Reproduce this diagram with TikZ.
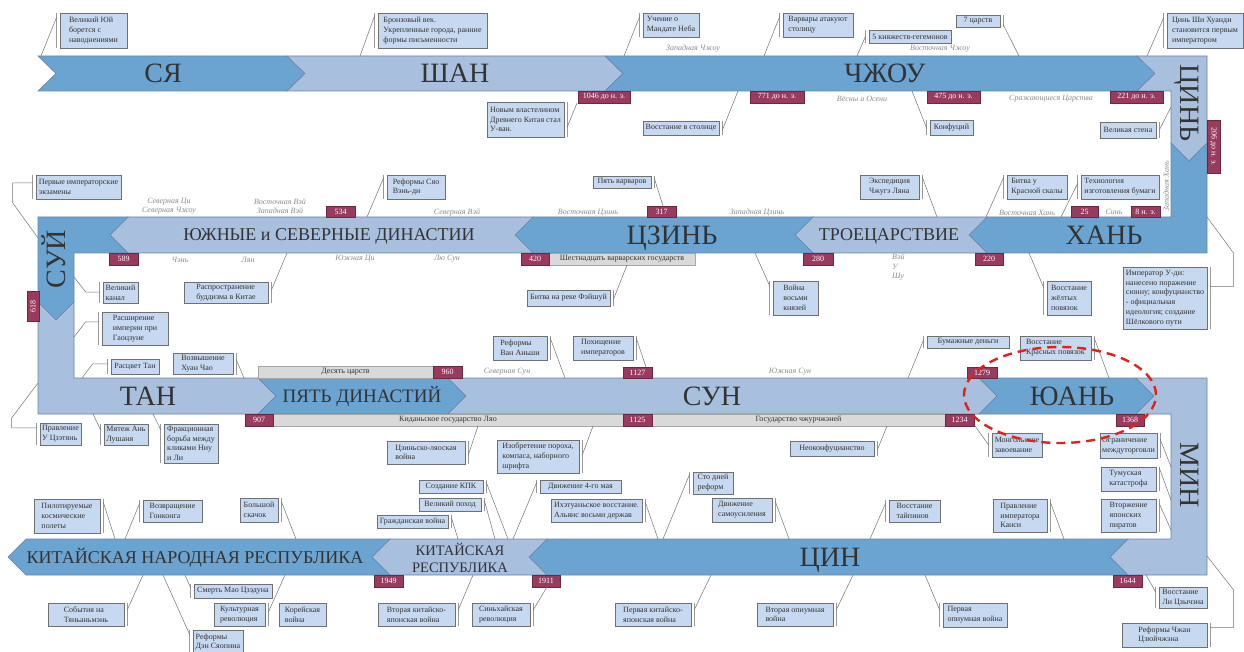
\documentclass[tikz,border=0pt]{standalone}
\usepackage{fontspec}
\setmainfont{Liberation Serif}
\usetikzlibrary{calc}
\definecolor{dk}{HTML}{6BA3D1}
\definecolor{lt}{HTML}{A9BFDE}
\definecolor{edgec}{HTML}{6A84A6}
\definecolor{evf}{HTML}{C6D9F0}
\definecolor{evd}{HTML}{707070}
\definecolor{rd}{HTML}{983B5E}
\definecolor{gb}{HTML}{D9D9D9}
\definecolor{gbd}{HTML}{A6A6A6}
\definecolor{tx}{HTML}{333333}
\definecolor{itc}{HTML}{8C8C8C}
\definecolor{ellc}{HTML}{E3201B}
\tikzset{
 dkrib/.style={fill=dk, draw=edgec, line width=0.6pt},
 ltrib/.style={fill=lt, draw=edgec, line width=0.6pt},
 big/.style={font=\fontsize{28}{30}\selectfont, text=tx, inner sep=0pt, anchor=base},
 midlab/.style={font=\fontsize{18}{20}\selectfont, text=tx, inner sep=0pt, anchor=base},
 evt/.style={fill=evf, draw=evd, line width=0.6pt, font=\fontsize{8}{9.8}\selectfont, text=tx, align=left, inner sep=2pt},
 datebox/.style={fill=rd, draw=rd!70!black, line width=0.4pt, text=white, font=\fontsize{8}{9}\selectfont, inner sep=0pt},
 graybar/.style={fill=gb, draw=gbd, line width=0.5pt, text=tx, font=\fontsize{8}{9}\selectfont, inner sep=0pt},
 sub/.style={font=\itshape\fontsize{8}{9.5}\selectfont, text=itc, inner sep=0pt, align=center},
 conn/.style={draw=black!55, line width=0.5pt},
 brk/.style={draw=black!40, line width=0.8pt},
}
\newcommand\bx[7]{\node[#1, minimum width={#5-#3}, minimum height={#6-#4}] (#2) at ({(#3+#5)/2},{(#4+#6)/2}) {#7};}
\newcommand\cL[4]{\coordinate (#1t) at (#3,#4);
 \draw[brk] ($(#1.north west)+(-3,0)$) -- ($(#1.south west)+(-3,0)$);
 \draw[conn] ($(#1.north west)!#2!(#1.south west)+(-3,0)$) -- (#1t);}
\newcommand\cR[4]{\coordinate (#1t) at (#3,#4);
 \draw[brk] ($(#1.north east)+(3,0)$) -- ($(#1.south east)+(3,0)$);
 \draw[conn] ($(#1.north east)!#2!(#1.south east)+(3,0)$) -- (#1t);}
\begin{document}
\begin{tikzpicture}[x=1pt,y=-1pt]
\useasboundingbox[fill=white] (0,0) rectangle (1244,652);
% ---------- ribbons ----------
\draw[dkrib] (38,56) -- (287,56) -- (305,73.5) -- (287,91) -- (38,91) -- (56,73.5) -- cycle;
\draw[ltrib] (287,56) -- (605,56) -- (623,73.5) -- (605,91) -- (287,91) -- (305,73.5) -- cycle;
\draw[dkrib] (605,56) -- (1137,56) -- (1155,73.5) -- (1137,91) -- (605,91) -- (623,73.5) -- cycle;
\draw[ltrib] (1137,56) -- (1207,56) -- (1207,143) -- (1189,161) -- (1171,143) -- (1171,91) -- (1137,91) -- (1155,73.5) -- cycle;
\draw[dkrib] (1171,143) -- (1189,161) -- (1207,143) -- (1207,253) -- (987,253) -- (969,235) -- (987,217) -- (1171,217) -- cycle;
\draw[ltrib] (987,217) -- (969,235) -- (987,253) -- (813,253) -- (795,235) -- (813,217) -- cycle;
\draw[dkrib] (813,217) -- (795,235) -- (813,253) -- (533,253) -- (515,235) -- (533,217) -- cycle;
\draw[ltrib] (533,217) -- (515,235) -- (533,253) -- (128,253) -- (110,235) -- (128,217) -- cycle;
\draw[dkrib] (128,217) -- (110,235) -- (128,253) -- (74,253) -- (74,302) -- (56,320) -- (38,302) -- (38,217) -- cycle;
\draw[ltrib] (38,302) -- (56,320) -- (74,302) -- (74,378) -- (258,378) -- (276,396) -- (258,414) -- (38,414) -- cycle;
\draw[dkrib] (258,378) -- (276,396) -- (258,414) -- (448,414) -- (466,396) -- (448,378) -- cycle;
\draw[ltrib] (448,378) -- (466,396) -- (448,414) -- (979,414) -- (997,396) -- (979,378) -- cycle;
\draw[dkrib] (979,378) -- (997,396) -- (979,414) -- (1136,414) -- (1154,396) -- (1136,378) -- cycle;
\draw[ltrib] (1136,378) -- (1207,378) -- (1207,575) -- (1128,575) -- (1110,557) -- (1128,539) -- (1171,539) -- (1171,414) -- (1136,414) -- (1154,396) -- cycle;
\draw[dkrib] (1128,539) -- (1110,557) -- (1128,575) -- (547,575) -- (529,557) -- (547,539) -- cycle;
\draw[ltrib] (547,539) -- (529,557) -- (547,575) -- (390,575) -- (372,557) -- (390,539) -- cycle;
\draw[dkrib] (390,539) -- (372,557) -- (390,575) -- (26,575) -- (8,557) -- (26,539) -- cycle;
% ---------- ribbon labels ----------
\node[big] (lXia) at (163,83) {СЯ};
\node[big] (lShang) at (455,83) {ШАН};
\node[big] (lZhou) at (885,83) {ЧЖОУ};
\node[big, rotate=-90] (lQin) at (1180,103) {ЦИНЬ};
\node[big] (lHan) at (1104,244) {ХАНЬ};
\node[midlab] (lThree) at (889,241) {ТРОЕЦАРСТВИЕ};
\node[big] (lJin) at (672,244) {ЦЗИНЬ};
\node[midlab] (lSN) at (329,241) {ЮЖНЫЕ и СЕВЕРНЫЕ ДИНАСТИИ};
\node[big, rotate=90] (lSui) at (65,259) {СУЙ};
\node[big] (lTang) at (148,405) {ТАН};
\node[font=\fontsize{19}{21}\selectfont, text=tx, inner sep=0pt, anchor=base] (lFive) at (362,402) {ПЯТЬ ДИНАСТИЙ};
\node[big] (lSong) at (712,405) {СУН};
\node[big] (lYuan) at (1072,405) {ЮАНЬ};
\node[big, rotate=-90] (lMing) at (1180,475) {МИН};
\node[big] (lQing) at (830,566) {ЦИН};
\node[font=\fontsize{14.5}{17}\selectfont, text=tx, inner sep=0pt, align=center] (lROC) at (460,558) {КИТАЙСКАЯ\\РЕСПУБЛИКА};
\node[font=\fontsize{18}{20}\selectfont, text=tx, inner sep=0pt, anchor=base] (lPRC) at (195,563) {КИТАЙСКАЯ НАРОДНАЯ РЕСПУБЛИКА};
% ---------- gray bars ----------
\bx{graybar}{g16}{549}{253}{695}{265}{Шестнадцать варварских государств}
\bx{graybar}{g10}{258}{366}{433}{378}{Десять царств}
\bx{graybar}{gLiao}{273}{414}{623}{426}{Киданьское государство Ляо}
\bx{graybar}{gJur}{652}{414}{945}{426}{Государство чжурчжэней}
% ---------- date boxes ----------
\bx{datebox}{d1046}{578}{91}{630}{103}{1046 до н. э.}
\bx{datebox}{d771}{750}{91}{804}{103}{771 до н. э.}
\bx{datebox}{d475}{927}{91}{980}{103}{475 до н. э.}
\bx{datebox}{d221}{1110}{91}{1163}{103}{221 до н. э.}
\node[datebox, rotate=-90, minimum width=53, minimum height=13] (d206) at (1213.5,146.5) {206 до н. э.};
\bx{datebox}{d534}{326}{206}{355}{217}{534}
\bx{datebox}{d317}{647}{206}{676}{217}{317}
\bx{datebox}{d25}{1071}{206}{1098}{217}{25}
\bx{datebox}{d8}{1131}{206}{1160}{217}{8 н. э.}
\bx{datebox}{d589}{109}{253}{138}{265}{589}
\bx{datebox}{d420}{521}{253}{549}{265}{420}
\bx{datebox}{d280}{803}{253}{833}{265}{280}
\bx{datebox}{d220}{975}{253}{1003}{265}{220}
\node[datebox, rotate=90, minimum width=30, minimum height=12] (d618) at (33,306) {618};
\bx{datebox}{d960}{433}{366}{462}{378}{960}
\bx{datebox}{d1127}{623}{367}{652}{378}{1127}
\bx{datebox}{d1279}{967}{367}{997}{378}{1279}
\bx{datebox}{d907}{245}{414}{273}{426}{907}
\bx{datebox}{d1125}{623}{414}{652}{426}{1125}
\bx{datebox}{d1234}{945}{414}{974}{426}{1234}
\bx{datebox}{d1368}{1116}{414}{1144}{426}{1368}
\bx{datebox}{d1949}{374}{575}{403}{587}{1949}
\bx{datebox}{d1911}{532}{575}{560}{587}{1911}
\bx{datebox}{d1644}{1113}{575}{1142}{587}{1644}
% ---------- sub-period labels ----------
\node[sub] (s1) at (693,49) {Западная Чжоу};
\node[sub] (s2) at (862,99) {Вёсны и Осени};
\node[sub] (s3) at (940,49) {Восточная Чжоу};
\node[sub] (s4) at (1051,99) {Сражающиеся Царства};
\node[sub] (s5) at (169,206) {Северная Ци\\Северная Чжоу};
\node[sub] (s6) at (280,206) {Восточная Вэй\\Западная Вэй};
\node[sub] (s7) at (457,213) {Северная Вэй};
\node[sub] (s8) at (588,213) {Восточная Цзинь};
\node[sub] (s9) at (757,213) {Западная Цзинь};
\node[sub] (s10) at (1027,213) {Восточная Хань};
\node[sub] (s11) at (1114,212) {Синь};
\node[sub, rotate=90] (s12) at (1166,186) {Западная Хань};
\node[sub] (s13) at (180,260) {Чэнь};
\node[sub] (s14) at (248,260) {Лян};
\node[sub] (s15) at (355,259) {Южная Ци};
\node[sub] (s16) at (447,259) {Лю Сун};
\node[sub, align=left, anchor=north west] (s17) at (892,254) {Вэй\\У\\Шу};
\node[sub] (s18) at (507,372) {Северная Сун};
\node[sub] (s19) at (790,372) {Южная Сун};
% ---------- events ----------
\bx{evt}{e1}{60}{13}{127}{48}{Великий Юй\\борется с\\наводнениями}
\cL{e1}{0.12}{41}{56}
\bx{evt}{e2}{378}{13}{487}{48}{Бронзовый век.\\Укрепленные города, ранние\\формы письменности}
\cL{e2}{0.08}{360}{56}
\bx{evt}{e3}{643}{13}{699}{37}{Учение о\\Мандате Неба}
\cL{e3}{0.15}{624}{56}
\bx{evt}{e4}{783}{13}{853}{37}{Варвары атакуют\\столицу}
\cL{e4}{0.15}{764}{56}
\bx{evt}{e5}{869}{30}{951}{43}{5 княжеств-гегемонов}
\cL{e5}{0.45}{857}{56}
\bx{evt}{e6}{956}{15}{1000}{27}{7 царств}
\cR{e6}{0.8}{1019}{56}
\bx{evt}{e7}{1167}{13}{1243}{48}{Цинь Ши Хуанди\\становится первым\\императором}
\cL{e7}{0.14}{1147}{56}
\bx{evt}{e8}{487}{102}{564}{137}{Новым властелином\\Древнего Китая стал\\У-ван.}
\cR{e8}{0.71}{577}{103}
\bx{evt}{e9}{643}{121}{719}{135}{Восстание в столице}
\cR{e9}{0.65}{738}{91}
\bx{evt}{e10}{930}{120}{973}{135}{Конфуций}
\cL{e10}{0.55}{912}{91}
\bx{evt}{e11}{1100}{122}{1156}{138}{Великая стена}
\cR{e11}{0.5}{1171}{107}
\bx{evt}{e12}{36}{175}{121}{199}{Первые императорские\\экзамены}
\coordinate (e12t) at (38,238);
\draw[brk] ($(e12.north west)+(-3,0)$) -- ($(e12.south west)+(-3,0)$);
\draw[conn] ($(e12.north west)!0.33!(e12.south west)+(-3,0)$) -- ++(-20,0) -- ++(0,20) -- (e12t);
\bx{evt}{e13}{387}{175}{445}{199}{Реформы Сяо\\Вэнь-ди}
\cL{e13}{0.12}{367}{217}
\bx{evt}{e14}{593}{176}{651}{188}{Пять варваров}
\cR{e14}{0.2}{663}{206}
\bx{evt}{e15}{860}{175}{919}{199}{Экспедиция\\Чжугэ Ляна}
\cR{e15}{0.1}{937}{217}
\bx{evt}{e16}{1007}{175}{1067}{199}{Битва у\\Красной скалы}
\cL{e16}{0.1}{986}{217}
\bx{evt}{e17}{1081}{175}{1159}{199}{Технология\\изготовления бумаги}
\cL{e17}{0.35}{1061}{217}
\bx{evt}{e18}{103}{282}{138}{303}{Великий\\канал}
\coordinate (e18t) at (74,277);
\draw[brk] ($(e18.north west)+(-3,0)$) -- ($(e18.south west)+(-3,0)$);
\draw[conn] ($(e18.north west)!0.48!(e18.south west)+(-3,0)$) -- ++(-14,0) -- (e18t);
\bx{evt}{e19}{184}{282}{268}{303}{Распространение\\буддизма в Китае}
\cR{e19}{0.4}{287}{253}
\bx{evt}{e20}{527}{290}{610}{306}{Битва на реке Фэйшуй}
\cR{e20}{0.6}{627}{265}
\bx{evt}{e21}{773}{281}{818}{315}{Война\\восьми\\князей}
\cL{e21}{0.15}{755}{253}
\bx{evt}{e22}{1047}{281}{1091}{315}{Восстание\\жёлтых\\повязок}
\cL{e22}{0.2}{1029}{253}
\bx{evt}{e23}{1123}{267}{1207}{329}{Император У-ди:\\нанесено поражение\\сюнну; конфуцианство\\- официальная\\идеология; создание\\Шёлкового пути}
\coordinate (e23t) at (1207,217);
\draw[brk] ($(e23.north east)+(3,0)$) -- ($(e23.south east)+(3,0)$);
\draw[conn] ($(e23.north east)!0.32!(e23.south east)+(3,0)$) -- ++(23,0) -- ++(0,-34) -- (e23t);
\bx{evt}{e24}{102}{312}{168}{345}{Расширение\\империи при\\Гаоцзуне}
\coordinate (e24t) at (74,337);
\draw[brk] ($(e24.north west)+(-3,0)$) -- ($(e24.south west)+(-3,0)$);
\draw[conn] ($(e24.north west)!0.3!(e24.south west)+(-3,0)$) -- ++(-13,0) -- (e24t);
\bx{evt}{e25}{111}{359}{159}{374}{Расцвет Тан}
\coordinate (e25t) at (82,378);
\draw[brk] ($(e25.north west)+(-3,0)$) -- ($(e25.south west)+(-3,0)$);
\draw[conn] ($(e25.north west)!0.33!(e25.south west)+(-3,0)$) -- ++(-15,0) -- (e25t);
\bx{evt}{e26}{173}{354}{233}{374}{Возвышение\\Хуан Чао}
\cR{e26}{0.3}{244}{378}
\bx{evt}{e27}{493}{336}{547}{360}{Реформы\\Ван Аньши}
\cR{e27}{0.1}{565}{378}
\bx{evt}{e28}{573}{336}{633}{360}{Похищение\\императоров}
\cR{e28}{0.1}{646}{367}
\bx{evt}{e29}{927}{336}{1009}{348}{Бумажные деньги}
\cL{e29}{0.3}{908}{378}
\bx{evt}{e30}{1020}{336}{1091}{360}{Восстание\\Красных повязок}
\cR{e30}{0.1}{1109}{378}
\bx{evt}{e31}{40}{423}{81}{445}{Правление\\У Цзэтянь}
\coordinate (e31t) at (38,383);
\draw[brk] ($(e31.north west)+(-3,0)$) -- ($(e31.south west)+(-3,0)$);
\draw[conn] ($(e31.north west)!0.23!(e31.south west)+(-3,0)$) -- ++(-25,0) -- ++(0,-10) -- (e31t);
\bx{evt}{e32}{104}{424}{148}{445}{Мятеж Ань\\Лушаня}
\cL{e32}{0.3}{93}{414}
\bx{evt}{e33}{164}{424}{218}{463}{Фракционная\\борьба между\\кликами Ниу\\и Ли}
\cL{e33}{0.15}{153}{414}
\bx{evt}{e34}{387}{441}{465}{464}{Цзиньско-ляоская\\война}
\cR{e34}{0.6}{478}{426}
\bx{evt}{e35}{497}{440}{579}{473}{Изобретение пороха,\\компаса, наборного\\шрифта}
\cR{e35}{0.45}{593}{426}
\bx{evt}{e36}{790}{441}{874}{456}{Неоконфуцианство}
\cR{e36}{0.6}{887}{426}
\bx{evt}{e37}{992}{433}{1042}{457}{Монгольское\\завоевание}
\cL{e37}{0.5}{975}{426}
\bx{evt}{e38}{1101}{433}{1156}{458}{Ограничение\\междуторговли}
\cR{e38}{0.25}{1171}{467}
\bx{evt}{e39}{1101}{467}{1156}{491}{Тумуская\\катастрофа}
\cR{e39}{0.05}{1171}{500}
\bx{evt}{e40}{1101}{499}{1156}{532}{Вторжение\\японских\\пиратов}
\cR{e40}{0.15}{1171}{530}
\bx{evt}{e41}{993}{499}{1047}{532}{Правление\\императора\\Канси}
\cR{e41}{0.1}{1064}{539}
\bx{evt}{e42}{889}{500}{940}{522}{Восстание\\тайпинов}
\cL{e42}{0.15}{870}{539}
\bx{evt}{e43}{712}{498}{772}{522}{Движение\\самоусиления}
\cR{e43}{0.15}{789}{539}
\bx{evt}{e44}{693}{472}{733}{494}{Сто дней\\реформ}
\cL{e44}{0.1}{663}{539}
\bx{evt}{e45}{551}{499}{642}{522}{Ихэтуаньское восстание.\\Альянс восьми держав}
\cR{e45}{0.15}{658}{539}
\bx{evt}{e46}{540}{480}{621}{493}{Движение 4-го мая}
\cL{e46}{0.2}{513}{539}
\bx{evt}{e47}{419}{480}{483}{493}{Создание КПК}
\cR{e47}{0.2}{508}{539}
\bx{evt}{e48}{419}{498}{481}{511}{Великий поход}
\cR{e48}{0.2}{495}{539}
\bx{evt}{e49}{377}{515}{448}{528}{Гражданская война}
\cR{e49}{0.2}{458}{539}
\bx{evt}{e50}{34}{499}{100}{533}{Пилотируемые\\космические\\полеты}
\cR{e50}{0.1}{115}{539}
\bx{evt}{e51}{143}{500}{202}{522}{Возвращение\\Гонконга}
\cL{e51}{0.15}{125}{539}
\bx{evt}{e52}{240}{498}{278}{522}{Большой\\скачок}
\cR{e52}{0.15}{296}{539}
\bx{evt}{e53}{194}{584}{272}{598}{Смерть Мао Цзэдуна}
\cL{e53}{0.3}{185}{575}
\bx{evt}{e54}{48}{603}{124}{626}{События на\\Тяньаньмэнь}
\cR{e54}{0.3}{143}{575}
\bx{evt}{e55}{214}{603}{265}{626}{Культурная\\революция}
\cR{e55}{0.4}{285}{575}
\bx{evt}{e56}{279}{603}{326}{626}{Корейская\\война}
\bx{evt}{e57}{193}{630}{243}{654}{Реформы\\Дэн Сяопина}
\cL{e57}{0.2}{163}{575}
\bx{evt}{e58}{378}{603}{455}{626}{Вторая китайско-\\японская война}
\cR{e58}{0.3}{473}{575}
\bx{evt}{e59}{472}{603}{530}{626}{Синьхайская\\революция}
\cR{e59}{0.3}{547}{587}
\bx{evt}{e60}{615}{603}{691}{626}{Первая китайско-\\японская война}
\cR{e60}{0.3}{711}{575}
\bx{evt}{e61}{757}{603}{833}{626}{Вторая опиумная\\война}
\cR{e61}{0.3}{853}{575}
\bx{evt}{e62}{943}{603}{1007}{627}{Первая\\опиумная война}
\cL{e62}{0.3}{925}{575}
\bx{evt}{e63}{1159}{587}{1207}{608}{Восстание\\Ли Цзычэна}
\cL{e63}{0.25}{1146}{575}
\bx{evt}{e64}{1122}{623}{1207}{647}{Реформы Чжан\\Цзюйчжэна}
\coordinate (e64t) at (1207,556);
\draw[brk] ($(e64.north east)+(3,0)$) -- ($(e64.south east)+(3,0)$);
\draw[conn] ($(e64.north east)!0.2!(e64.south east)+(3,0)$) -- ++(23,0) -- ++(0,-38) -- (e64t);
% ---------- highlight ----------
\draw[ellc, line width=2.4pt, dash pattern=on 9pt off 6pt] (1060,395) ellipse [x radius=96pt, y radius=48pt];
\end{tikzpicture}
\end{document}
